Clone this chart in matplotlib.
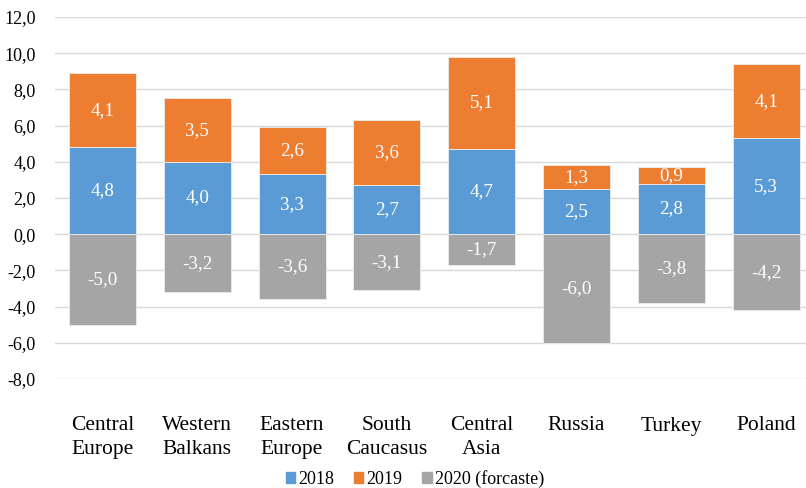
import matplotlib
matplotlib.use("Agg")
import matplotlib.pyplot as plt
from matplotlib.patches import Patch
import numpy as np

# Regional GDP growth, percent
regions = ["Central\nEurope", "Western\nBalkans", "Eastern\nEurope", "South\nCaucasus",
           "Central\nAsia", "Russia", "Turkey", "Poland"]
growth_2018 = [4.8, 4.0, 3.3, 2.7, 4.7, 2.5, 2.8, 5.3]
growth_2019 = [4.1, 3.5, 2.6, 3.6, 5.1, 1.3, 0.9, 4.1]
growth_2020 = [-5.0, -3.2, -3.6, -3.1, -1.7, -6.0, -3.8, -4.2]
series_names = ["2018", "2019", "2020 (forcaste)"]
y_ticks = [-8, -6, -4, -2, 0, 2, 4, 6, 8, 10, 12]

colors = ["#5B9BD5", "#ED7D31", "#A5A5A5"]

plt.rcParams["font.family"] = ["Liberation Serif", "DejaVu Serif"]

fig = plt.figure(figsize=(8.06, 4.88), dpi=100)
ax = fig.add_axes([55 / 806, 1 - 379 / 488, 1 - 55 / 806, (379 - 17) / 488])

x = np.arange(len(regions))
w = 0.707
edge = dict(edgecolor="#EDEDED", linewidth=0.6)
ax.bar(x, growth_2018, w, color=colors[0], zorder=3, **edge)
ax.bar(x, growth_2019, w, bottom=growth_2018, color=colors[1], zorder=3, **edge)
ax.bar(x, growth_2020, w, color=colors[2], zorder=3, **edge)


def fmt(v):
    return f"{v:.1f}".replace(".", ",")


for i in range(len(regions)):
    ax.text(x[i], growth_2018[i] / 2, fmt(growth_2018[i]), ha="center", va="center",
            color="white", fontsize=13.7, zorder=4)
    ax.text(x[i], growth_2018[i] + growth_2019[i] / 2, fmt(growth_2019[i]), ha="center",
            va="center", color="white", fontsize=13.7, zorder=4)
    ax.text(x[i], growth_2020[i] / 2, fmt(growth_2020[i]), ha="center", va="center",
            color="white", fontsize=13.7, zorder=4)

ax.set_ylim(-8, 12)
ax.set_xlim(-0.5, 7.42)
ax.set_yticks(y_ticks)
ax.set_yticklabels([fmt(v) for v in y_ticks], fontsize=13)
ax.set_xticks(x)
ax.set_xticklabels(regions, fontsize=15.5, linespacing=1.3)
ax.tick_params(axis="y", length=0, pad=14)
ax.tick_params(axis="x", length=0, pad=27)
ax.grid(axis="y", color="#D9D9D9", linewidth=1, zorder=0)
for s in ax.spines.values():
    s.set_visible(False)

handles = [Patch(color=c) for c in colors]
fig.legend(handles, series_names, loc="center", bbox_to_anchor=(415 / 806, 1 - 479 / 488),
           ncol=3, frameon=False, fontsize=13, handlelength=0.5, handleheight=0.5,
           handletextpad=0.2, columnspacing=1.1, borderaxespad=0)

fig.savefig("out.png", dpi=100)
